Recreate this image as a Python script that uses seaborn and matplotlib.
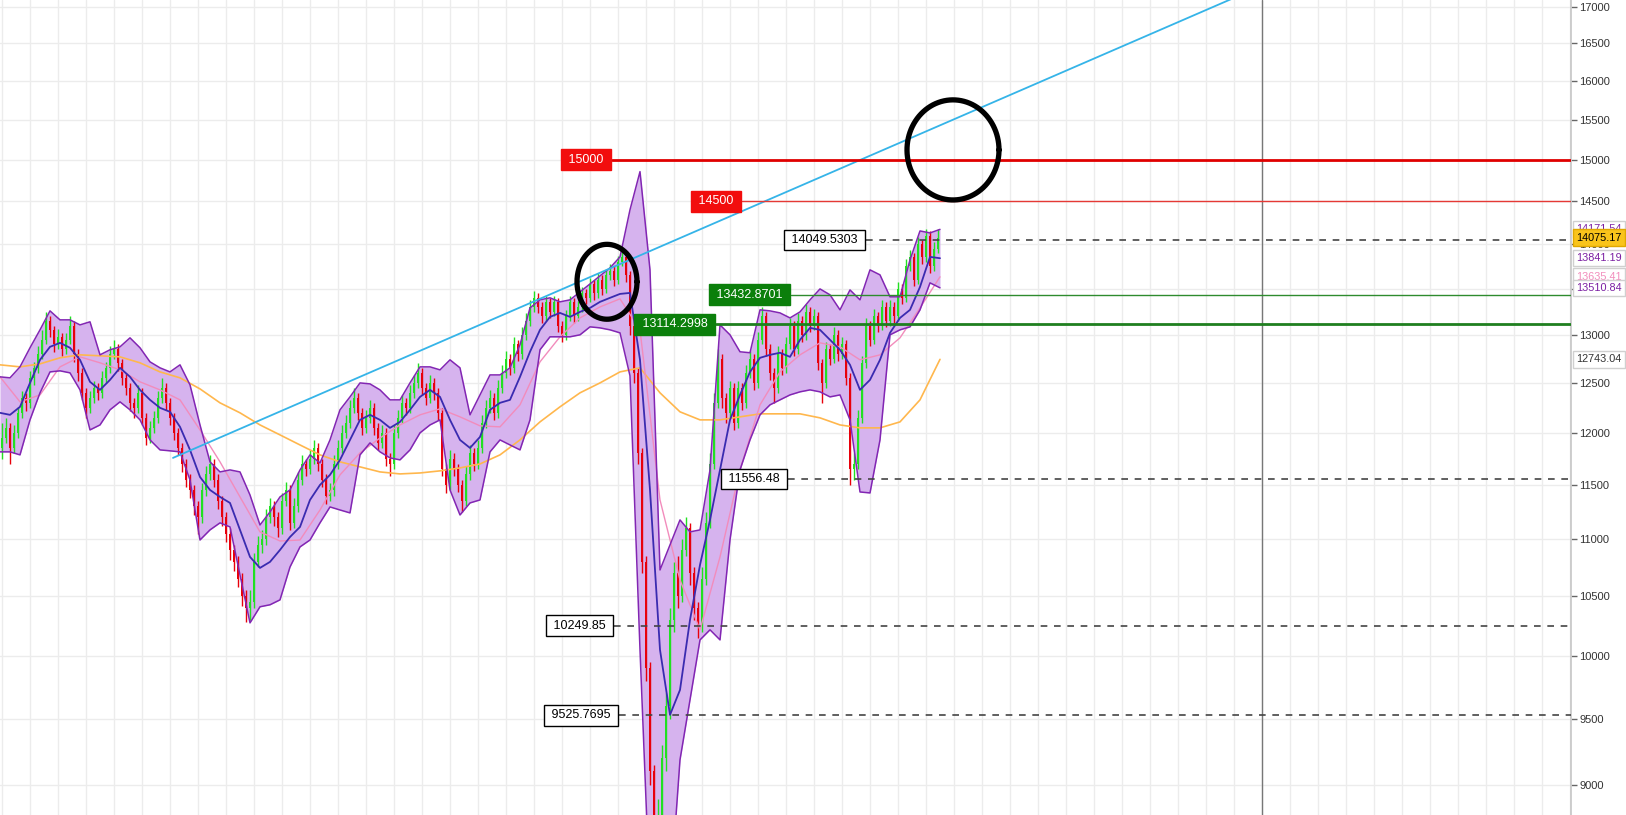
import numpy as np
import matplotlib
matplotlib.use("Agg")
import matplotlib.pyplot as plt
import seaborn as sns
from matplotlib.ticker import FixedLocator, FixedFormatter, NullLocator, MultipleLocator

# ---------------- data ----------------
opens = [11850,11950,12050,11850,12000,12200,12350,12300,12550,12650,
         12800,12950,13150,13050,12900,12980,12850,12950,13100,12800,
         12600,12400,12250,12350,12450,12400,12550,12650,12800,12850,
         12700,12550,12450,12300,12250,12400,12150,11950,12050,12150,
         12350,12450,12300,12150,12000,11850,11700,11550,11450,11300,
         11200,11450,11600,11700,11550,11350,11200,11050,10900,10800,
         10650,10500,10400,10450,10800,10950,11000,11200,11300,11200,
         11100,11350,11450,11150,11300,11550,11700,11650,11750,11850,
         11700,11550,11400,11450,11700,11850,12000,12100,12250,12350,
         12200,12050,12150,12250,12050,11900,12000,11750,11700,12000,
         12150,12300,12250,12400,12500,12600,12450,12350,12500,12400,
         12200,11650,11500,11750,11650,11500,11350,11600,11800,11700,
         11850,12100,12250,12350,12200,12450,12600,12750,12650,12900,
         12800,13000,13150,13300,13400,13300,13200,13350,13250,13350,
         13100,13000,13200,13350,13200,13300,13450,13400,13550,13450,
         13600,13500,13650,13700,13600,13800,13850,13650,13100,12600,
         11800,10800,9900,9100,8500,8700,9200,9600,10300,10700,
         10500,10900,11100,10700,10400,10250,10650,11150,11700,12300,
         12750,12350,12200,12450,12100,12450,12300,12600,12750,12500,
         12950,13200,12850,12600,12450,12800,12650,12900,13100,12850,
         13150,13000,13250,13100,13200,12700,12500,12850,12750,13000,
         12800,12900,12550,11650,11700,12150,12700,13100,12950,13200,
         13100,13300,13150,13300,13200,13500,13400,13750,13850,13600,
         14000,13850,14100,13750,13950]
highs = [12100,12150,12100,12080,12260,12420,12400,12620,12720,12880,
         13050,13250,13200,13100,13060,13020,13020,13200,13150,12850,
         12650,12450,12420,12520,12500,12620,12720,12880,12950,12900,
         12750,12600,12500,12350,12480,12450,12200,12120,12220,12420,
         12550,12500,12350,12200,12050,11900,11750,11600,11500,11350,
         11520,11680,11780,11750,11600,11400,11250,11100,10950,10850,
         10700,10550,10550,10880,11030,11080,11280,11380,11350,11250,
         11420,11530,11500,11380,11620,11780,11750,11830,11930,11900,
         11750,11600,11520,11780,11930,12080,12180,12330,12450,12400,
         12250,12230,12330,12300,12100,12080,12050,11800,12080,12230,
         12380,12350,12480,12580,12700,12650,12500,12580,12550,12450,
         12250,11700,11830,11800,11700,11550,11680,11880,11850,11930,
         12180,12330,12430,12400,12530,12680,12830,12800,12980,12950,
         13080,13230,13380,13470,13450,13350,13420,13400,13420,13400,
         13150,13270,13420,13400,13370,13520,13500,13620,13600,13670,
         13650,13720,13780,13750,13870,13920,13900,13700,13150,12650,
         11850,10850,9950,9150,8900,9300,9700,10400,10800,10850,
         11000,11200,11150,10750,10450,10750,11250,11800,12400,12850,
         12800,12400,12520,12500,12520,12500,12680,12830,12800,13030,
         13300,13250,12900,12650,12880,12850,12980,13180,13150,13230,
         13200,13330,13300,13280,13250,12750,12930,12900,13080,13050,
         12980,12950,12600,11800,12230,12780,13180,13150,13280,13250,
         13380,13350,13380,13350,13580,13550,13830,13930,13900,14080,
         14050,14180,14150,14030,14170]
lows = [11750,11900,11700,11800,11950,12150,12220,12250,12480,12600,
        12750,12900,12980,12820,12850,12780,12800,12900,12720,12520,
        12330,12150,12200,12300,12330,12350,12500,12600,12750,12620,
        12480,12380,12220,12150,12200,12080,11880,11900,12000,12100,
        12300,12230,12080,11930,11780,11620,11480,11380,11220,11050,
        11150,11400,11550,11480,11280,11120,10980,10820,10720,10580,
        10420,10280,10300,10400,10750,10880,10950,11150,11120,11020,
        11050,11300,11080,11100,11250,11500,11580,11600,11700,11630,
        11480,11320,11350,11400,11650,11800,11950,12050,12200,12130,
        11980,12000,12100,11980,11830,11850,11680,11580,11650,11950,
        12100,12180,12200,12350,12450,12380,12280,12300,12330,12130,
        11580,11420,11450,11580,11430,11250,11300,11550,11630,11650,
        11800,12050,12200,12130,12150,12400,12550,12580,12600,12730,
        12750,12950,13100,13250,13230,13130,13150,13180,13200,13030,
        12930,12950,13150,13130,13150,13250,13330,13350,13380,13400,
        13430,13450,13600,13530,13550,13750,13580,13000,12500,11700,
        10700,9800,9000,8300,8100,8600,9100,9500,10200,10400,
        10450,10850,10600,10300,10150,10200,10600,11100,11650,12250,
        12250,12100,12150,12030,12050,12230,12250,12550,12430,12450,
        12900,12780,12530,12300,12400,12580,12600,12850,12780,12800,
        12930,12950,13030,13050,12630,12300,12450,12680,12700,12730,
        12750,12480,11500,11550,11650,12100,12650,12880,12900,13030,
        13050,13080,13100,13130,13150,13330,13350,13700,13530,13550,
        13780,13800,13680,13700,13900]
closes = [11950,12050,11850,12000,12200,12350,12300,12550,12650,12800,
          12950,13150,13050,12900,12980,12850,12950,13100,12800,12600,
          12400,12250,12350,12450,12400,12550,12650,12800,12850,12700,
          12550,12450,12300,12250,12400,12150,11950,12050,12150,12350,
          12450,12300,12150,12000,11850,11700,11550,11450,11300,11200,
          11450,11600,11700,11550,11350,11200,11050,10900,10800,10650,
          10500,10400,10450,10800,10950,11000,11200,11300,11200,11100,
          11350,11450,11150,11300,11550,11700,11650,11750,11850,11700,
          11550,11400,11450,11700,11850,12000,12100,12250,12350,12200,
          12050,12150,12250,12050,11900,12000,11750,11700,12000,12150,
          12300,12250,12400,12500,12600,12450,12350,12500,12400,12200,
          11650,11500,11750,11650,11500,11350,11600,11800,11700,11850,
          12100,12250,12350,12200,12450,12600,12750,12650,12900,12800,
          13000,13150,13300,13400,13300,13200,13350,13250,13350,13100,
          13000,13200,13350,13200,13300,13450,13400,13550,13450,13600,
          13500,13650,13700,13600,13800,13850,13650,13100,12600,11800,
          10800,9900,9100,8500,8700,9200,9600,10300,10700,10500,
          10900,11100,10700,10400,10250,10650,11150,11700,12300,12750,
          12350,12200,12450,12100,12450,12300,12600,12750,12500,12950,
          13200,12850,12600,12450,12800,12650,12900,13100,12850,13150,
          13000,13250,13100,13200,12700,12500,12850,12750,13000,12800,
          12900,12550,11650,11700,12150,12700,13100,12950,13200,13100,
          13300,13150,13300,13200,13500,13400,13750,13850,13600,14000,
          13850,14100,13750,13950,14075]

# Bollinger band and moving averages, one value every 2.5 bars
bb_upper = [12562,12552,12665,12864,13054,13258,13161,13161,13107,13140,
            12790,12843,12874,12969,12864,12717,12655,12613,12686,12480,
            12078,11719,11623,11642,11623,11406,11130,11249,11388,11453,
            11642,11786,11709,11931,12228,12358,12500,12490,12429,12328,
            12328,12500,12665,12665,12634,12738,12655,12178,12378,12582,
            12582,12655,12895,13290,13378,13400,13356,13378,13465,13553,
            13643,13732,13856,14400,14856,13710,10728,10950,11176,11067,
            11085,11642,13107,13001,12822,12812,13269,13258,13236,13182,
            13247,13378,13498,13433,13269,13487,13378,13710,13654,13411,
            13411,13822,14153,14130,14171]
bb_mid = [12198,12178,12258,12500,12738,12874,12916,12864,12738,12511,
          12429,12531,12655,12562,12429,12328,12248,12208,12059,11834,
          11575,11453,11388,11332,11085,10843,10746,10799,10905,11021,
          11112,11360,11500,11595,11738,11931,12128,12178,12128,12049,
          12108,12228,12358,12429,12358,12128,11931,11853,11960,12228,
          12298,12328,12562,12822,13054,13193,13236,13193,13247,13290,
          13356,13400,13443,13454,12738,11453,10050,9530,9726,10299,
          10772,11176,11642,12128,12378,12613,12759,12790,12812,12769,
          12948,13075,13054,12948,12843,12686,12429,12531,12738,13022,
          13182,13269,13520,13856,13841]
bb_lower = [11815,11815,11786,12128,12399,12613,12624,12603,12429,12029,
            12078,12228,12308,12228,12128,11931,11834,11825,11815,11547,
            10994,11085,11149,11112,10684,10274,10410,10427,10469,10754,
            10932,10994,11149,11295,11267,11240,11786,11902,11815,11757,
            11738,11834,12000,12078,12128,11453,11221,11332,11360,11815,
            11931,11882,11834,12128,12843,12980,12980,12980,13001,13086,
            13075,13054,13022,12572,10050,8190,7860,8190,9186,9647,
            10132,10216,10132,10994,11642,11931,12178,12278,12328,12378,
            12409,12429,12409,12358,12378,12128,11434,11425,11931,13001,
            13054,13086,13269,13565,13510]
ma_pink = [12562,12308,12378,12665,12769,12707,12634,12511,12429,12328,
           12029,11719,11388,11067,10985,10994,11267,11595,11805,11950,
           12078,12178,12238,12158,12069,12059,12278,12717,12980,13182,
           13301,13389,13054,11360,10641,10216,10843,11642,12278,12613,
           12790,12916,12874,12738,12790,12969,13290,13632]
ma_orange = [12686,12665,12696,12759,12790,12780,12769,12707,12613,12552,
             12439,12298,12198,12078,11980,11882,11786,11719,11671,11623,
             11604,11613,11633,11661,11699,11786,11931,12108,12258,12399,
             12500,12613,12655,12399,12208,12128,12128,12158,12188,12188,
             12188,12148,12078,12049,12049,12108,12328,12743]

# price axis ticks
tick_values = list(range(9000, 17001, 500))

# horizontal levels drawn on the chart
level_prices = [15000, 14500, 14049.5303, 13432.8701, 13114.2998,
                11556.48, 10249.85, 9525.7695]
level_texts = ["15000", "14500", "14049.5303", "13432.8701", "13114.2998",
               "11556.48", "10249.85", "9525.7695"]
level_start_bar = [152.5, 185, 216, 197.25, 178.5, 196.5, 153, 154.25]

# trend line (bar index, price)
trend_bars = [42.75, 312]
trend_prices = [11757, 17220]

# price scale labels
scale_values = [14171.54, 14075.17, 13841.19, 13635.41, 13510.84, 12743.04]
scale_texts = ["14171.54", "14075.17", "13841.19", "13635.41", "13510.84", "12743.04"]

# circled areas: (centre bar, centre price), (half width in bars, half height in log units)
circle_centres = [(151.25, 13577), (237.75, 15122)]
circle_sizes = [(7.5, 0.0306), (11.5, 0.0409)]

now_bar = 315

# ---------------- style ----------------
sns.set_theme(style="white")
plt.rcParams['font.family'] = ['Liberation Sans', 'DejaVu Sans']

GREEN = "#22e022"
RED = "#e8000b"
FILL = "#d6b3ee"
BAND = "#8226b3"
MID = "#3a2bb0"
PINK = "#f28cbc"
ORANGE = "#ffb74d"
TREND = "#35b4e8"

W, H = 1626, 815
fig = plt.figure(figsize=(W / 100, H / 100), dpi=100)
fig.patch.set_facecolor("white")
ax = fig.add_axes([0, 0, 1571 / W, 1])
ax.set_yscale("log")
X_MIN, X_MAX = -0.5, 392.25
ax.set_xlim(X_MIN, X_MAX)
ax.set_ylim(8781, 17093)

# grid
ax.set_axisbelow(True)
ax.xaxis.set_major_locator(MultipleLocator(7))
ax.yaxis.set_major_locator(FixedLocator(tick_values))
ax.yaxis.set_major_formatter(FixedFormatter([str(v) for v in tick_values]))
ax.yaxis.set_minor_locator(NullLocator())
ax.grid(True, which="major", color="#ececec", lw=1)
ax.yaxis.tick_right()
ax.tick_params(axis="y", which="major", length=4, width=1, color="#666",
               labelsize=8, labelcolor="#333", pad=2)
ax.tick_params(axis="x", length=0, labelbottom=False)
for s in ["left", "top", "bottom"]:
    ax.spines[s].set_visible(False)
ax.spines["right"].set_color("#c8c8c8")

# Bollinger fill
bx = np.arange(len(bb_upper)) * 2.5 - 0.5
ax.fill_between(bx, bb_lower, bb_upper, color=FILL, lw=0, zorder=2)

# candles
o = np.array(opens, float); c = np.array(closes, float)
h = np.array(highs, float); l = np.array(lows, float)
idx = np.arange(len(c))
cols = np.where(c >= o, GREEN, RED)
ax.vlines(idx, l, h, colors=cols, lw=1, zorder=3)
ax.bar(idx, np.abs(c - o), bottom=np.minimum(o, c), width=0.55, color=cols,
       linewidth=0, zorder=3)

# lines
mx = np.arange(len(ma_pink)) * 5 - 0.5
sns.lineplot(x=mx, y=ma_orange, ax=ax, color=ORANGE, lw=1.2, zorder=4)
sns.lineplot(x=mx, y=ma_pink, ax=ax, color=PINK, lw=1.0, zorder=4)
sns.lineplot(x=bx, y=bb_upper, ax=ax, color=BAND, lw=1.1, zorder=5)
sns.lineplot(x=bx, y=bb_lower, ax=ax, color=BAND, lw=1.1, zorder=5)
sns.lineplot(x=bx, y=bb_mid, ax=ax, color=MID, lw=1.3, zorder=5)
sns.lineplot(x=trend_bars, y=trend_prices, ax=ax, color=TREND, lw=1.3, zorder=6)

# vertical "now" line
ax.axvline(now_bar, color="#777", lw=1, zorder=1.5)

# level lines and labels
level_styles = [
    dict(color="#e00000", lw=2.0, ls="-", fc="#f20d0d", tc="white", ec="#f20d0d"),
    dict(color="#e53935", lw=1.0, ls="-", fc="#f20d0d", tc="white", ec="#f20d0d"),
    dict(color="#444444", lw=1.2, ls=(0, (4, 4)), fc="white", tc="black", ec="black"),
    dict(color="#2e8b2e", lw=1.0, ls="-", fc="#0b7f0b", tc="white", ec="#0b7f0b"),
    dict(color="#1f7f1f", lw=2.0, ls="-", fc="#0b7f0b", tc="white", ec="#0b7f0b"),
    dict(color="#444444", lw=1.2, ls=(0, (4, 4)), fc="white", tc="black", ec="black"),
    dict(color="#444444", lw=1.2, ls=(0, (4, 4)), fc="white", tc="black", ec="black"),
    dict(color="#444444", lw=1.2, ls=(0, (4, 4)), fc="white", tc="black", ec="black"),
]
for p, t, s, st in zip(level_prices, level_texts, level_start_bar, level_styles):
    ax.plot([s, X_MAX], [p, p], color=st["color"], lw=st["lw"], ls=st["ls"], zorder=7)
    ax.annotate(" " + t + " ", xy=(s, p), xytext=(-5, 0), textcoords="offset pixels",
                ha="right", va="center", fontsize=9, color=st["tc"], zorder=8,
                bbox=dict(boxstyle="square,pad=0.35", fc=st["fc"], ec=st["ec"], lw=1))

# circles
t = np.linspace(0, 2 * np.pi, 200)
for (cx, cy), (rx, ry) in zip(circle_centres, circle_sizes):
    ax.plot(cx + rx * np.cos(t), cy * np.exp(ry * np.sin(t)), color="black",
            lw=3.8, zorder=9, solid_capstyle="round")

# price scale labels
scale_styles = [
    dict(tc="#7b1fa2", fc="white", ec="#d0d0d0"),
    dict(tc="black", fc="#f9c41b", ec="#e0a800"),
    dict(tc="#7b1fa2", fc="white", ec="#d0d0d0"),
    dict(tc="#f28cbc", fc="white", ec="#d0d0d0"),
    dict(tc="#7b1fa2", fc="white", ec="#d0d0d0"),
    dict(tc="#333333", fc="white", ec="#d0d0d0"),
]
ytr = ax.get_yaxis_transform()
for v, txt, st in zip(scale_values, scale_texts, scale_styles):
    ax.text(1.0035, v, txt, transform=ytr, ha="left", va="center",
            fontsize=7.8, color=st["tc"], clip_on=False, zorder=10,
            bbox=dict(boxstyle="square,pad=0.3", fc=st["fc"], ec=st["ec"], lw=1))

fig.savefig("out.png", dpi=100, facecolor="white")
